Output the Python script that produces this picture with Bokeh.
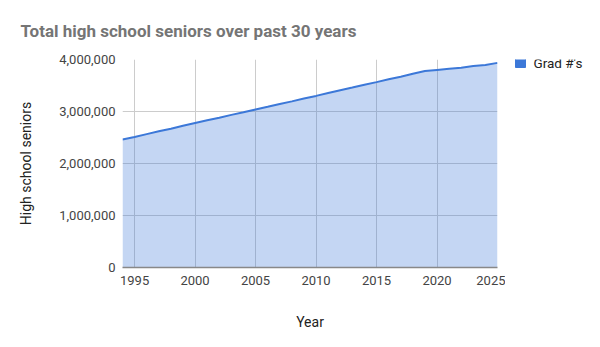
from bokeh.plotting import figure
from bokeh.layouts import row
from bokeh.models import (FixedTicker, NumeralTickFormatter, Range1d, ColumnDataSource)
from bokeh.core.properties import value
from bokeh.embed import file_html
from bokeh.resources import INLINE

years = list(range(1994, 2026))
grads = [2460000, 2510000, 2565000, 2620000, 2670000, 2725000, 2780000, 2830000,
         2880000, 2935000, 2985000, 3040000, 3090000, 3145000, 3195000, 3250000,
         3300000, 3355000, 3410000, 3460000, 3515000, 3565000, 3620000, 3670000,
         3725000, 3780000, 3800000, 3820000, 3840000, 3875000, 3895000, 3935000]
x_ticks = [1995, 2000, 2005, 2010, 2015, 2020, 2025]
y_ticks = [0, 1000000, 2000000, 3000000, 4000000]
series_name = "Grad #'s"

FONT = "Roboto"
BLUE = "#3c78d8"

src = ColumnDataSource(dict(year=years, grads=grads, zero=[0] * len(years)))

p = figure(width=505, height=347, output_backend="svg", toolbar_location=None,
           x_range=Range1d(1994, 2025), y_range=Range1d(0, 4000000),
           min_border_left=122, min_border_right=8, min_border_top=59,
           min_border_bottom=80)
p.outline_line_color = None

p.title.text = "Total high school seniors over past 30 years"
p.title.text_font = FONT
p.title.text_font_size = "17px"
p.title.text_font_style = "bold"
p.title.text_color = "#757575"
p.title.offset = -102
p.title.standoff = 37

p.varea(x="year", y1="zero", y2="grads", source=src, fill_color=BLUE, fill_alpha=0.3)
p.line(x="year", y="grads", source=src, line_color=BLUE, line_width=2)

p.xaxis.ticker = FixedTicker(ticks=x_ticks)
p.yaxis.ticker = FixedTicker(ticks=y_ticks)
p.yaxis.formatter = NumeralTickFormatter(format="0,0")

for ax in (p.xaxis[0], p.yaxis[0]):
    ax.major_tick_line_color = None
    ax.minor_tick_line_color = None
    ax.major_tick_out = 0
    ax.major_tick_in = 0
    ax.minor_tick_out = 0
    ax.minor_tick_in = 0
    ax.major_label_text_font = FONT
    ax.major_label_text_font_size = "13px"
    ax.major_label_text_color = "#444444"
    ax.axis_label_text_font = FONT
    ax.axis_label_text_font_size = "14px"
    ax.axis_label_text_font_style = "normal"
    ax.axis_label_text_color = "#222222"

p.xaxis.axis_label = "Year"
p.yaxis.axis_label = "High school seniors"
p.xaxis.axis_line_color = "#888888"
p.xaxis.axis_line_width = 1.5
p.yaxis.axis_line_color = None
p.xaxis.major_label_standoff = 8
p.yaxis.major_label_standoff = 7
p.xaxis.axis_label_standoff = 26
p.yaxis.axis_label_standoff = 22

p.xgrid.grid_line_color = "#cccccc"
p.ygrid.grid_line_color = "#cccccc"
p.xgrid.ticker = FixedTicker(ticks=x_ticks)
p.ygrid.ticker = FixedTicker(ticks=y_ticks)

# legend panel (its frame is aligned with the main frame: top 59, bottom 267)
leg = figure(width=95, height=347, output_backend="svg", toolbar_location=None,
             x_range=Range1d(0, 95), y_range=Range1d(267, 59),
             min_border=0, x_axis_type=None, y_axis_type=None)
leg.outline_line_color = None
leg.grid.visible = False
leg.scatter(x=[15], y=[62], marker="square", size=10, fill_color=BLUE, line_color=BLUE)
leg.text(x=[28], y=[62], text=[series_name], text_font=value(FONT),
         text_font_size="13.5px", text_color="#222222", text_baseline="middle",
         text_align="left")

layout = row(p, leg, spacing=0)
open("out.html", "w").write(file_html(layout, INLINE))
